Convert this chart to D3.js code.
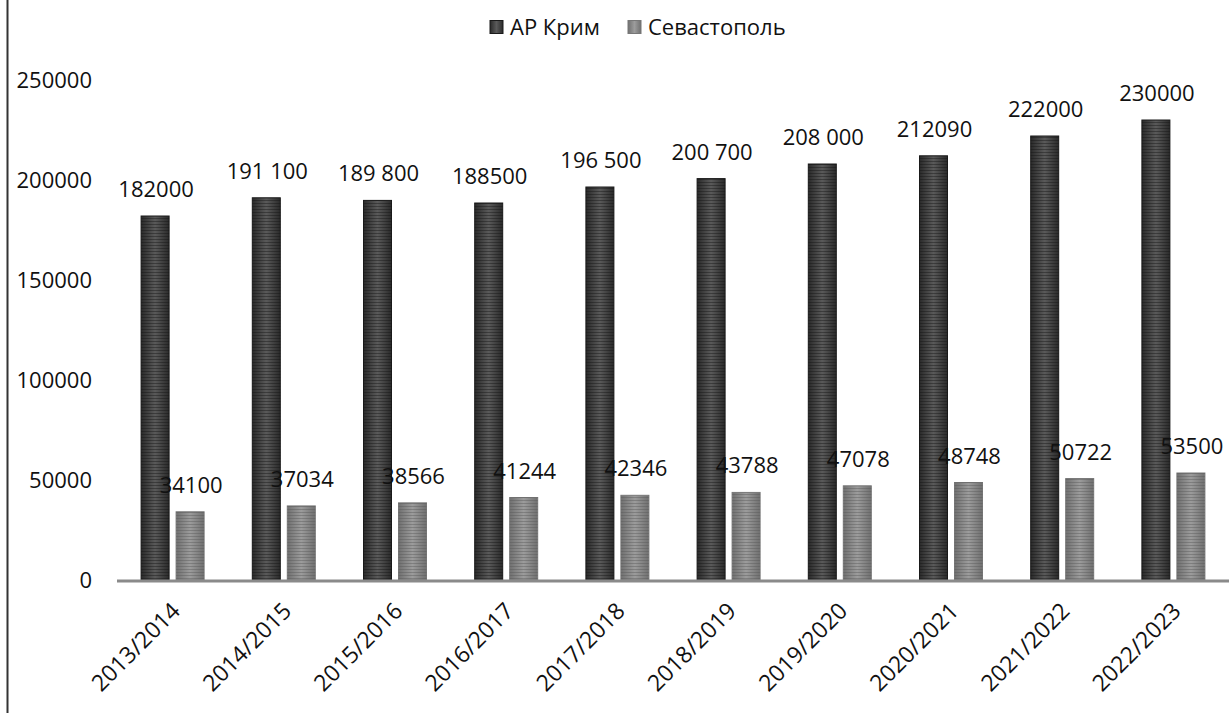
<!DOCTYPE html>
<html>
<head>
<meta charset="utf-8">
<script src="https://cdn.jsdelivr.net/npm/d3@7/dist/d3.min.js"></script>
<style>
  body { margin: 0; background: #fff; }
  svg { display: block; font-family: "Open Sans", sans-serif; }
</style>
</head>
<body>
<div id="chart"></div>
<script>
// Data
var categories = ["2013/2014", "2014/2015", "2015/2016", "2016/2017", "2017/2018",
  "2018/2019", "2019/2020", "2020/2021", "2021/2022", "2022/2023"];
var seriesNames = ["АР Крим", "Севастополь"];
var crimea = [182000, 191100, 189800, 188500, 196500, 200700, 208000, 212090, 222000, 230000];
var crimeaLabels = ["182000", "191 100", "189 800", "188500", "196 500", "200 700", "208 000", "212090", "222000", "230000"];
var sevastopol = [34100, 37034, 38566, 41244, 42346, 43788, 47078, 48748, 50722, 53500];
var sevastopolLabels = ["34100", "37034", "38566", "41244", "42346", "43788", "47078", "48748", "50722", "53500"];
var yTicks = [0, 50000, 100000, 150000, 200000, 250000];

var width = 1229, height = 715;
var margins = { top: 80, right: 0, bottom: 135, left: 117 };
var chartWidth = width - margins.left - margins.right;
var chartHeight = height - margins.top - margins.bottom;

var svg = d3.select("#chart").append("svg")
  .attr("width", width)
  .attr("height", height);

// Bar fills: horizontal stripes over a side-lit gradient
var defs = svg.append("defs");
function makeFill(id, edge, mid, stripe) {
  var g = defs.append("linearGradient").attr("id", id + "-grad")
    .attr("x1", 0).attr("x2", 1).attr("y1", 0).attr("y2", 0);
  g.append("stop").attr("offset", "0%").attr("stop-color", edge);
  g.append("stop").attr("offset", "50%").attr("stop-color", mid);
  g.append("stop").attr("offset", "100%").attr("stop-color", edge);
  var p = defs.append("pattern").attr("id", id + "-stripe")
    .attr("patternUnits", "userSpaceOnUse").attr("width", 4).attr("height", 3);
  p.append("rect").attr("width", 4).attr("height", 1).attr("fill", stripe).attr("opacity", 0.4);
}
makeFill("dark", "#2a2a2a", "#5a5a5a", "#111");
makeFill("light", "#707070", "#9c9c9c", "#555");

// Left frame line
svg.append("line")
  .attr("x1", 7.5).attr("x2", 7.5).attr("y1", 0).attr("y2", 713)
  .attr("stroke", "#333").attr("stroke-width", 2);

var chartElement = svg.append("g")
  .attr("transform", "translate(" + margins.left + "," + margins.top + ")");

// Scales
var xScale = d3.scaleBand().domain(categories).range([0, chartWidth]);
var yScale = d3.scaleLinear().domain([0, 250000]).range([chartHeight, 0]);
var barW = 28, barGap = 7;

// Y axis labels
var yAxis = d3.axisLeft(yScale).tickValues(yTicks).tickSize(0).tickPadding(25).tickFormat(d3.format("d"));
chartElement.append("g").attr("class", "y axis").call(yAxis)
  .call(g => g.select(".domain").remove())
  .selectAll("text")
  .attr("font-size", 22).attr("fill", "#111").attr("font-family", "'Open Sans', sans-serif");

var groups = [
  { name: seriesNames[0], values: crimea, labels: crimeaLabels, id: "dark", off: -(barW + barGap / 2) + barW / 2 },
  { name: seriesNames[1], values: sevastopol, labels: sevastopolLabels, id: "light", off: barGap / 2 + barW / 2 }
];

// Bars
groups.forEach(function(s) {
  var bars = chartElement.append("g").attr("class", "bars-" + s.id);
  var cx = function(d, i) { return xScale(categories[i]) + xScale.bandwidth() / 2 + s.off; };
  bars.selectAll("rect.base").data(s.values).enter().append("rect")
    .attr("x", (d, i) => cx(d, i) - barW / 2)
    .attr("y", d => yScale(d))
    .attr("width", barW)
    .attr("height", d => yScale(0) - yScale(d))
    .attr("fill", "url(#" + s.id + "-grad)")
    .attr("stroke", s.id == "dark" ? "#1a1a1a" : "#777").attr("stroke-width", 1);
  bars.selectAll("rect.stripe").data(s.values).enter().append("rect")
    .attr("x", (d, i) => cx(d, i) - barW / 2)
    .attr("y", d => yScale(d))
    .attr("width", barW)
    .attr("height", d => yScale(0) - yScale(d))
    .attr("fill", "url(#" + s.id + "-stripe)");
});

// Baseline
chartElement.append("line")
  .attr("x1", 0).attr("x2", chartWidth)
  .attr("y1", yScale(0) + 1).attr("y2", yScale(0) + 1)
  .attr("stroke", "#8a8a8a").attr("stroke-width", 3);

// Value labels
groups.forEach(function(s) {
  chartElement.append("g").selectAll("text").data(s.values).enter().append("text")
    .attr("x", (d, i) => xScale(categories[i]) + xScale.bandwidth() / 2 + s.off + 1)
    .attr("y", d => yScale(d) - 19)
    .attr("text-anchor", "middle")
    .attr("font-size", 22)
    .attr("fill", "#111")
    .text((d, i) => s.labels[i]);
});

// X axis labels
var xAxis = d3.axisBottom(xScale).tickSize(0).tickPadding(0);
chartElement.append("g").attr("class", "x axis")
  .attr("transform", "translate(0," + (chartHeight + 30) + ")")
  .call(xAxis)
  .call(g => g.select(".domain").remove())
  .selectAll("text")
  .attr("font-size", 23).attr("fill", "#111").attr("font-family", "'Open Sans', sans-serif")
  .attr("text-anchor", "end")
  .attr("dy", "0.35em")
  .attr("dx", "0.2em")
  .attr("transform", "rotate(-45)");

// Legend
var legend = svg.append("g").attr("transform", "translate(490,27)");
var legendItems = [
  { name: seriesNames[0], id: "dark", x: 0 },
  { name: seriesNames[1], id: "light", x: 138 }
];
legendItems.forEach(function(l) {
  var g = legend.append("g").attr("transform", "translate(" + l.x + ",0)");
  g.append("rect").attr("x", 0).attr("y", -6.5).attr("width", 13).attr("height", 13)
    .attr("fill", "url(#" + l.id + "-grad)").attr("stroke", l.id == "dark" ? "#1a1a1a" : "#777");
  g.append("text").attr("x", 20).attr("y", 0).attr("dy", "0.35em")
    .attr("font-size", 22).attr("fill", "#111").text(l.name);
});
</script>
</body>
</html>
